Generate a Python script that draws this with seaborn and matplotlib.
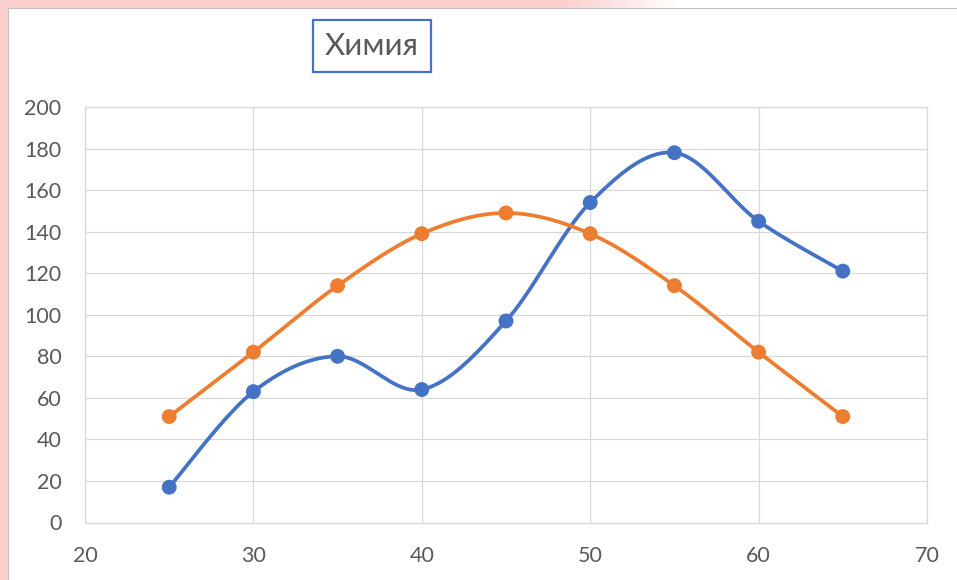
import numpy as np
import pandas as pd
import matplotlib
matplotlib.use("Agg")
import matplotlib.pyplot as plt
import seaborn as sns

# ---- data ----
x_vals = [25, 30, 35, 40, 45, 50, 55, 60, 65]
blue_vals = [17, 63, 80, 64, 97, 154, 178, 145, 121]
orange_vals = [51, 82, 114, 139, 149, 139, 114, 82, 51]
x_ticks = [20, 30, 40, 50, 60, 70]
y_ticks = [0, 20, 40, 60, 80, 100, 120, 140, 160, 180, 200]
title_text = "Химия"

BLUE = "#4472C4"
ORANGE = "#ED7D31"
GRID = "#D9D9D9"
TEXT = "#595959"


def smooth(xs, ys, n=40):
    """Excel-like Bezier smoothing through the given points."""
    P = np.column_stack([xs, ys]).astype(float)
    m = len(P)
    out = []
    for i in range(m - 1):
        p0 = P[max(i - 1, 0)]
        p1 = P[i]
        p2 = P[i + 1]
        p3 = P[min(i + 2, m - 1)]
        b1 = p1 + (p2 - p0) / 6.0
        b2 = p2 - (p3 - p1) / 6.0
        t = np.linspace(0, 1, n)[:, None]
        seg = ((1 - t) ** 3) * p1 + 3 * ((1 - t) ** 2) * t * b1 + 3 * (1 - t) * t ** 2 * b2 + t ** 3 * p2
        if i > 0:
            seg = seg[1:]
        out.append(seg)
    c = np.vstack(out)
    return c[:, 0], c[:, 1]


sns.set_theme(style="white")
plt.rcParams['font.family'] = ['Lato', 'DejaVu Sans']

W, H = 957, 580
fig = plt.figure(figsize=(W / 100, H / 100), dpi=100)
fig.patch.set_facecolor("white")

# background frame (pink band left/top, grey border)
bg = np.ones((H, W, 3))
pink = np.array([252, 206, 206]) / 255.0
bg[:, :8] = pink
xs_px = np.arange(W)
fade = np.clip((680 - xs_px) / 120.0, 0, 1)
for r in range(8):
    bg[r] = 1 - (1 - pink)[None, :] * fade[:, None]
bg[:8, :8] = pink
grey = np.array([191, 191, 191]) / 255.0
bg[8:, 8] = grey
bg[8, 8:] = grey
ax_bg = fig.add_axes([0, 0, 1, 1], zorder=-10)
ax_bg.imshow(bg, aspect="auto", interpolation="nearest")
ax_bg.axis("off")

# main axes
left, right, bottom, top = 85, 927, 522.5, 107
ax = fig.add_axes([left / W, (H - bottom) / H, (right - left) / W, (bottom - top) / H])
ax.set_facecolor("none")

rows = []
for name, vals in (("blue", blue_vals), ("orange", orange_vals)):
    sx, sy = smooth(x_vals, vals)
    rows.append(pd.DataFrame({"x": sx, "y": sy, "series": name, "order": np.arange(len(sx))}))
curves = pd.concat(rows, ignore_index=True)
points = pd.concat([
    pd.DataFrame({"x": x_vals, "y": blue_vals, "series": "blue"}),
    pd.DataFrame({"x": x_vals, "y": orange_vals, "series": "orange"}),
], ignore_index=True)
palette = {"blue": BLUE, "orange": ORANGE}

sns.lineplot(data=curves, x="x", y="y", hue="series", palette=palette, sort=False,
             estimator=None, units="series", linewidth=2.7, legend=False, ax=ax, zorder=3)
sns.scatterplot(data=points, x="x", y="y", hue="series", palette=palette, s=115,
                edgecolor=None, linewidth=0, legend=False, ax=ax, zorder=4)

ax.set_xlim(20, 70)
ax.set_ylim(0, 200)
ax.set_xticks(x_ticks)
ax.set_yticks(y_ticks)
ax.set_xlabel("")
ax.set_ylabel("")
ax.grid(True, color=GRID, linewidth=0.9)
ax.set_axisbelow(True)
for s in ax.spines.values():
    s.set_color(GRID)
    s.set_linewidth(0.9)
ax.tick_params(axis="both", length=0, labelsize=15.5, labelcolor=TEXT)
ax.tick_params(axis="y", pad=17)
ax.tick_params(axis="x", pad=17)

# boxed title
fig.text(372 / W, 1 - 46 / H, title_text, ha="center", va="center", fontsize=22.5,
         color=TEXT,
         bbox=dict(boxstyle="square,pad=0.38", facecolor="white", edgecolor=BLUE, linewidth=1.6))

fig.savefig("out.png", dpi=100)
